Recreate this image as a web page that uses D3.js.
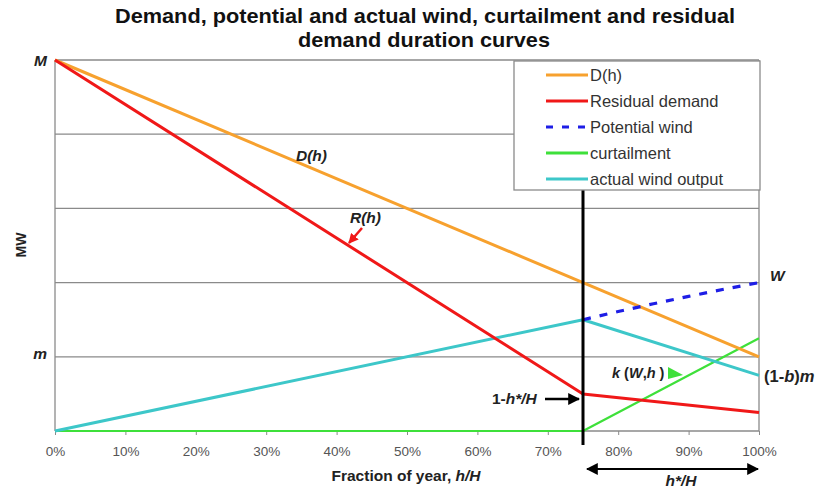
<!DOCTYPE html>
<html><head><meta charset="utf-8">
<script src="https://cdn.jsdelivr.net/npm/d3@7"></script>
<style>body{margin:0;background:#fff}svg{display:block}</style>
</head><body>
<script>
const xTicks = [0,10,20,30,40,50,60,70,80,90,100];
const yGrid = [0,20,40,60,80,100];
const demand = [[0,100],[100,20]];
const residual = [[0,100],[75,10],[100,5]];
const potentialWind = [[75,30],[80,32.2],[85,34.3],[90,36.3],[95,38.2],[100,40]];
const curtailment = [[0,0],[75,0],[100,25]];
const actualWind = [[0,0],[75,30],[100,15]];
const cutoff = 75;
const legendItems = ["D(h)","Residual demand","Potential wind","curtailment","actual wind output"];
const colors = {D:"#F7A12E", R:"#F01818", P:"#1E1EE6", C:"#3EE03A", A:"#3DC7C9"};

const W = 819, H = 488;
const svg = d3.select("body").append("svg").attr("width",W).attr("height",H);
const x = d3.scaleLinear().domain([0,100]).range([55,759]);
const y = d3.scaleLinear().domain([0,100]).range([431,60]);
const font = "'Liberation Sans', Arial, sans-serif";

// title
const t = svg.append("text").attr("text-anchor","middle")
  .attr("font-family",font).attr("font-weight","bold").attr("font-size",21).attr("fill","#111");
t.append("tspan").attr("x",425).attr("y",23).attr("textLength",620).attr("lengthAdjust","spacingAndGlyphs")
  .text("Demand, potential and actual wind, curtailment and residual");
t.append("tspan").attr("x",424).attr("y",47).attr("textLength",252).attr("lengthAdjust","spacingAndGlyphs")
  .text("demand duration curves");

// gridlines
svg.append("g").selectAll("line").data(yGrid).join("line")
  .attr("x1",x(0)).attr("x2",x(100)).attr("y1",d=>y(d)).attr("y2",d=>y(d))
  .attr("stroke","#8a8a8a").attr("stroke-width",1.3);
svg.append("line").attr("x1",x(0)).attr("x2",x(0)).attr("y1",y(100)).attr("y2",y(0)).attr("stroke","#8a8a8a").attr("stroke-width",1.3);
svg.append("line").attr("x1",x(100)).attr("x2",x(100)).attr("y1",y(100)).attr("y2",y(0)).attr("stroke","#8a8a8a").attr("stroke-width",1.3);

// x axis
const xAxis = d3.axisBottom(x).tickValues(xTicks).tickFormat(d=>d+"%").tickSize(4).tickSizeOuter(0);
const gx = svg.append("g").attr("transform",`translate(0,${y(0)})`).call(xAxis);
gx.select(".domain").remove();
gx.selectAll("line").attr("stroke","#8a8a8a");
gx.selectAll("text").attr("font-family",font).attr("font-size",13.5).attr("fill","#555").attr("dy","1.35em");

svg.append("text").attr("x",406).attr("y",481).attr("text-anchor","middle")
  .attr("font-family",font).attr("font-weight","bold").attr("font-size",15.5).attr("fill","#222")
  .html('Fraction of year, <tspan font-style="italic">h/H</tspan>');

svg.append("text").attr("transform","translate(26,245) rotate(-90)").attr("text-anchor","middle")
  .attr("font-family",font).attr("font-weight","bold").attr("font-size",14).attr("fill","#222").text("MW");

const line = d3.line().x(d=>x(d[0])).y(d=>y(d[1]));
function draw(data,color,w,dash){
  svg.append("path").datum(data).attr("d",line).attr("fill","none")
   .attr("stroke",color).attr("stroke-width",w).attr("stroke-dasharray",dash||null).attr("stroke-linejoin","round");
}
draw(curtailment,colors.C,2.2);
draw(actualWind,colors.A,3);
draw(demand,colors.D,3);
draw(residual,colors.R,3);
draw(potentialWind,colors.P,3.2,"8,9");

// vertical cutoff line
svg.append("line").attr("x1",x(cutoff)).attr("x2",x(cutoff)).attr("y1",178).attr("y2",445)
  .attr("stroke","#000").attr("stroke-width",3);

// legend
const lg = svg.append("g");
lg.append("rect").attr("x",514).attr("y",61).attr("width",246).attr("height",129)
  .attr("fill","#fff").attr("stroke","#8a8a8a").attr("stroke-width",1.3);
const lcol = [colors.D,colors.R,colors.P,colors.C,colors.A];
legendItems.forEach((s,i)=>{
  const yy = 75 + i*26;
  lg.append("line").attr("x1",546).attr("x2",588).attr("y1",yy).attr("y2",yy)
    .attr("stroke",lcol[i]).attr("stroke-width",i==2?3.2:3).attr("stroke-dasharray",i==2?"7,9":null);
  lg.append("text").attr("x",590).attr("y",yy+5.5).attr("font-family",font).attr("font-size",16.5).attr("fill","#333").text(s);
});

// labels
function lab(xp,yp,html,anchor,size){
  svg.append("text").attr("x",xp).attr("y",yp).attr("text-anchor",anchor||"start")
   .attr("font-family",font).attr("font-weight","bold").attr("font-size",size||15.5).attr("fill","#222").html(html);
}
lab(x(0)-8,y(100)+6,'<tspan font-style="italic">M</tspan>',"end");
lab(x(0)-8,y(20)+2,'<tspan font-style="italic">m</tspan>',"end");
lab(x(100)+11,y(40)-2,'<tspan font-style="italic">W</tspan>',"start");
lab(x(100)+5,y(15)+7,'(1-<tspan font-style="italic">b</tspan>)<tspan font-style="italic">m</tspan>',"start",16.5);
lab(296,161,'<tspan font-style="italic">D(h)</tspan>',"start");
lab(350,223,'<tspan font-style="italic">R(h)</tspan>',"start");
lab(612,378,'<tspan font-style="italic">k</tspan> (<tspan font-style="italic">W</tspan>,<tspan font-style="italic">h</tspan> )',"start",14.5);
lab(492,404,'1-<tspan font-style="italic">h*/H</tspan>',"start");
lab(681,486,'<tspan font-style="italic">h*/H</tspan>',"middle");

// arrows
const defs = svg.append("defs");
function marker(id,color,sz){
  defs.append("marker").attr("id",id).attr("viewBox","0 0 10 10").attr("refX",9).attr("refY",5)
    .attr("markerWidth",sz).attr("markerHeight",sz).attr("orient","auto-start-reverse").attr("markerUnits","userSpaceOnUse")
    .append("path").attr("d","M0,0L10,5L0,10z").attr("fill",color);
}
marker("ab","#000",12); marker("ar","#F01818",10);
svg.append("line").attr("x1",545).attr("x2",579).attr("y1",399).attr("y2",399)
  .attr("stroke","#000").attr("stroke-width",2.5).attr("marker-end","url(#ab)");
svg.append("line").attr("x1",x(cutoff)+4).attr("x2",x(100)-1).attr("y1",469).attr("y2",469)
  .attr("stroke","#000").attr("stroke-width",2).attr("marker-end","url(#ab)").attr("marker-start","url(#ab)");
svg.append("line").attr("x1",362).attr("x2",349).attr("y1",228).attr("y2",243)
  .attr("stroke","#F01818").attr("stroke-width",2.5).attr("marker-end","url(#ar)");
svg.append("path").attr("d","M668,367L683,375L668,379Z").attr("fill",colors.C);
</script>
</body></html>
